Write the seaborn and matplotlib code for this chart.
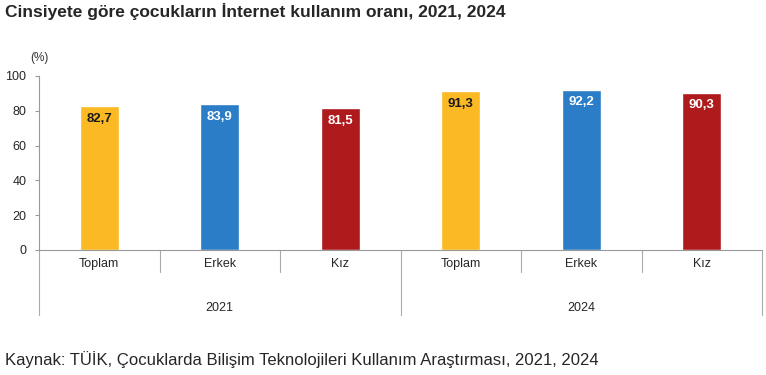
import matplotlib.pyplot as plt
import numpy as np
import pandas as pd
import seaborn as sns

# Data
years = ["2021", "2024"]
groups = ["Toplam", "Erkek", "Kız"]
values_2021 = [82.7, 83.9, 81.5]
values_2024 = [91.3, 92.2, 90.3]
bar_colors = ["#FBB924", "#2A7DC6", "#AF1A1C"]
label_colors = ["#1a1a1a", "white", "white"]

rows = []
for year, vals in zip(years, [values_2021, values_2024]):
    for g, v in zip(groups, vals):
        rows.append({"key": f"{year}-{g}", "group": g, "value": v})
df = pd.DataFrame(rows)

sns.set_style("white")
plt.rcParams["font.family"] = ["Liberation Sans", "DejaVu Sans"]

fig = plt.figure(figsize=(7.66, 3.75), dpi=100)
ax = fig.add_axes([39 / 766, 1 - 250 / 375, (762 - 39) / 766, 174 / 375])

sns.barplot(data=df, x="key", y="value", hue="group", palette=bar_colors,
            hue_order=groups, dodge=False, width=0.32, legend=False, ax=ax,
            saturation=1)

ax.set_ylim(0, 100)
ax.set_xlim(-0.5, len(df) - 0.5)
ax.set_yticks(np.arange(0, 101, 20))
ax.tick_params(axis="y", labelsize=9, length=3, color="#999999", left=True, pad=6)
ax.set_xticks(range(len(df)))
ax.set_xticklabels(df["group"], fontsize=9)
ax.tick_params(axis="x", length=0, pad=6)
ax.set_xlabel("")
ax.set_ylabel("")
for s in ["top", "right"]:
    ax.spines[s].set_visible(False)
ax.spines["left"].set_color("#999999")
ax.spines["bottom"].set_color("#999999")

# value labels
for i, row in df.iterrows():
    c = label_colors[groups.index(row["group"])]
    ax.annotate(f"{row['value']:.1f}".replace(".", ","), xy=(i, row["value"]),
                xytext=(0, -9), textcoords="offset points", ha="center",
                va="center", fontsize=9.5, fontweight="bold", color=c)

# category separators
trans = ax.get_xaxis_transform()
for b in np.arange(-0.5, len(df), 1):
    major = (b == -0.5) or (b == len(df) - 0.5) or (b == 2.5)
    y_end = -65 / 174 if major else -22 / 174
    ax.plot([b, b], [0, y_end], transform=trans, color="#aaaaaa", lw=0.8,
            clip_on=False)

for k, year in enumerate(years):
    ax.text(1 + 3 * k, -58 / 174, year, transform=trans, ha="center",
            va="center", fontsize=9)

ax.text(0, 1.07, "(%)", transform=ax.transAxes, fontsize=8.5, ha="center",
        va="bottom", color="#333333")

fig.text(5 / 766, 1 - 12 / 375, "Cinsiyete göre çocukların İnternet kullanım oranı, 2021, 2024",
         fontsize=12.5, fontweight="bold", va="center", ha="left")
fig.text(5 / 766, 1 - 360 / 375,
         "Kaynak: TÜİK, Çocuklarda Bilişim Teknolojileri Kullanım Araştırması, 2021, 2024",
         fontsize=12, va="center", ha="left")

fig.savefig("out.png", dpi=100)
